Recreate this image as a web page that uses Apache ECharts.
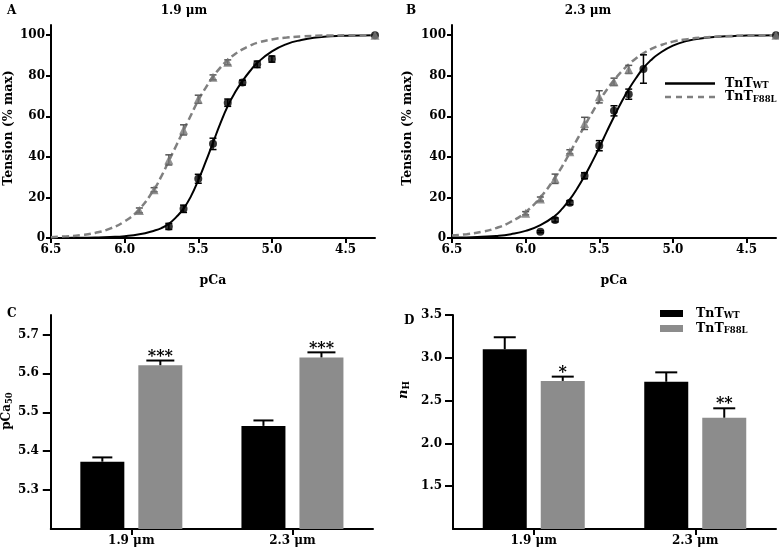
<!DOCTYPE html>
<html><head><meta charset="utf-8">
<script src="https://cdn.jsdelivr.net/npm/echarts@6/dist/echarts.min.js"></script>
<style>html,body{margin:0;padding:0;background:#fff}#c{width:779px;height:556px}</style>
</head><body><div id="c"></div>
<script>
// ---------- data ----------
const pcaTicks = [6.5, 6.0, 5.5, 5.0, 4.5];
const tensionTicks = [0, 20, 40, 60, 80, 100];
const pca50Ticks = [5.3, 5.4, 5.5, 5.6, 5.7];
const nHTicks = [1.5, 2.0, 2.5, 3.0, 3.5];
const sarcomere = ['1.9 μm', '2.3 μm'];

// Panel A (1.9 um) measured points
const aWtPCa = [5.7, 5.6, 5.5, 5.4, 5.3, 5.2, 5.1, 5.0, 4.3];
const aWtT = [5.7, 14.4, 29.2, 46.4, 66.7, 76.6, 85.6, 88.2, 100];
const aWtErr = [1.5, 1.8, 2.2, 2.8, 1.8, 1.2, 1.6, 1.5, 0];
const aMutPCa = [5.9, 5.8, 5.7, 5.6, 5.5, 5.4, 5.3, 4.3];
const aMutT = [13.6, 23.8, 38.5, 53.3, 68.4, 79.2, 86.6, 100];
const aMutErr = [1.2, 1.0, 2.5, 2.5, 2.0, 1.2, 1.2, 0];

// Panel B (2.3 um) measured points
const bWtPCa = [5.9, 5.8, 5.7, 5.6, 5.5, 5.4, 5.3, 5.2, 4.3];
const bWtT = [3.1, 8.9, 17.4, 30.7, 45.5, 62.7, 70.9, 83.3, 100];
const bWtErr = [0.5, 1.0, 1.0, 1.5, 2.5, 2.5, 2.5, 7.0, 0];
const bMutPCa = [6.0, 5.9, 5.8, 5.7, 5.6, 5.5, 5.4, 5.3, 4.3];
const bMutT = [12.2, 19.2, 29.2, 42.5, 56.5, 69.6, 77.0, 83.1, 100];
const bMutErr = [0.8, 1.0, 2.3, 1.0, 3.0, 3.0, 1.8, 2.0, 0];

// fitted curves
const curvePCa = [6.5, 6.4, 6.3, 6.2, 6.1, 6.0, 5.9, 5.8, 5.75, 5.7, 5.65, 5.6, 5.55, 5.5, 5.45, 5.4, 5.35, 5.3, 5.25, 5.2, 5.15, 5.1, 5.0, 4.9, 4.8, 4.7, 4.6, 4.5, 4.3];
const aWtCurve = [0, 0.05, 0.1, 0.25, 0.5, 0.9, 1.8, 3.6, 4.9, 7.0, 10.3, 14.5, 20.5, 28.5, 37.5, 47, 56.5, 65, 71.8, 77.3, 82.2, 86.3, 92, 95.6, 97.6, 98.8, 99.4, 99.7, 100];
const aMutCurve = [0.4, 0.8, 1.4, 2.5, 4.6, 8.2, 14.2, 24, 30.5, 38, 45.5, 53, 60.5, 67.8, 74, 79.5, 84, 87.8, 90.7, 93, 94.8, 96.2, 97.9, 98.8, 99.4, 99.7, 99.8, 99.9, 100];
const bWtCurve = [0.2, 0.3, 0.6, 1.0, 1.9, 3.5, 6.3, 11, 14.6, 19, 24.4, 30.5, 37.3, 44.6, 52.3, 59.8, 66.9, 73.3, 78.9, 83.8, 87.6, 90.6, 94.8, 97.2, 98.5, 99.2, 99.5, 99.8, 100];
const bMutCurve = [1.2, 1.9, 3.0, 4.9, 8.0, 12.8, 20, 29.8, 35.6, 42, 48.6, 55.2, 61.6, 67.6, 73, 77.8, 82, 85.6, 88.6, 91.1, 93.1, 94.6, 96.8, 98.0, 98.8, 99.3, 99.6, 99.8, 100];

// Panel C: pCa50
const cWt = [5.373, 5.465];
const cWtErr = [0.011, 0.014];
const cMut = [5.621, 5.641];
const cMutErr = [0.012, 0.013];
const cStars = ['***', '***'];

// Panel D: nH
const dWt = [3.10, 2.72];
const dWtErr = [0.14, 0.11];
const dMut = [2.73, 2.30];
const dMutErr = [0.05, 0.11];
const dStars = ['*', '**'];

// ---------- styling ----------
const FONT = 'DejaVu Serif';
const BLACK = '#000';
const GRAY = '#8c8c8c';
const TRI = '#777777';
const DASH = '#808080';
const BAR_W = 44, BAR_GAP = 14;

const zip = (xs, ys, es) => xs.map((x, i) => es ? [x, ys[i], es[i]] : [x, ys[i]]);
const lbl = {color: BLACK, fontFamily: FONT, fontWeight: 'bold', fontSize: 12};
const axLine = {show: true, onZero: false, lineStyle: {color: BLACK, width: 2}};
const tick = (vals, len) => ({show: true, length: len, lineStyle: {color: BLACK, width: 2}, customValues: vals});

function errPoints(capW, color) {
  return function (params, api) {
    const x = api.value(0), y = api.value(1), e = api.value(2);
    if (!e) return null;
    const t = api.coord([x, y + e]), b = api.coord([x, y - e]);
    const st = {stroke: color, lineWidth: 1.5};
    return {type: 'group', children: [
      {type: 'line', shape: {x1: t[0], y1: t[1], x2: b[0], y2: b[1]}, style: st},
      {type: 'line', shape: {x1: t[0] - capW / 2, y1: t[1], x2: t[0] + capW / 2, y2: t[1]}, style: st},
      {type: 'line', shape: {x1: b[0] - capW / 2, y1: b[1], x2: b[0] + capW / 2, y2: b[1]}, style: st}
    ]};
  };
}
function errBars(side, capW, stars) {
  return function (params, api) {
    const i = api.value(0), y = api.value(1), e = api.value(2);
    const base = api.coord([i, y]), t = api.coord([i, y + e]);
    const dx = side * (BAR_W + BAR_GAP) / 2;
    const x = base[0] + dx;
    const st = {stroke: BLACK, lineWidth: 2};
    const ch = [
      {type: 'line', shape: {x1: x, y1: base[1], x2: x, y2: t[1]}, style: st},
      {type: 'line', shape: {x1: x - capW / 2, y1: t[1], x2: x + capW / 2, y2: t[1]}, style: st}
    ];
    if (stars) ch.push({type: 'text', style: {text: stars[params.dataIndex], x: x, y: t[1] - 4, align: 'center', verticalAlign: 'middle', font: 'bold 16px "DejaVu Serif"', fill: BLACK}});
    return {type: 'group', children: ch};
  };
}

function pcaX(gi) {
  return {type: 'value', gridIndex: gi, min: 4.3, max: 6.5, inverse: true,
    name: 'pCa', nameLocation: 'middle', nameGap: 36,
    nameTextStyle: {color: BLACK, fontFamily: FONT, fontWeight: 'bold', fontSize: 12.5},
    axisLine: axLine, axisTick: tick(pcaTicks, 5), splitLine: {show: false},
    axisLabel: Object.assign({}, lbl, {margin: 6, customValues: pcaTicks, formatter: v => v.toFixed(1)})};
}
function tensionY(gi, gap) {
  return {type: 'value', gridIndex: gi, min: 0, max: 105,
    name: 'Tension (% max)', nameLocation: 'middle', nameGap: gap,
    nameTextStyle: {color: BLACK, fontFamily: FONT, fontWeight: 'bold', fontSize: 12.5, padding: [0, 0, 0, 7]},
    axisLine: axLine, axisTick: tick(tensionTicks, 5), splitLine: {show: false},
    axisLabel: Object.assign({}, lbl, {margin: 6, customValues: tensionTicks})};
}
function catX(gi) {
  return {type: 'category', gridIndex: gi, data: sarcomere,
    axisLine: axLine, axisTick: {show: true, alignWithLabel: true, length: 6, lineStyle: {color: BLACK, width: 2}},
    axisLabel: Object.assign({}, lbl, {margin: 6})};
}

const chart = echarts.init(document.getElementById('c'), null, {renderer: 'canvas'});
const titleStyle = {color: BLACK, fontFamily: FONT, fontWeight: 'bold', fontSize: 12};

const curveSeries = (name, xi, data, dashed) => ({
  type: 'line', name: name, xAxisIndex: xi, yAxisIndex: xi, data: zip(curvePCa, data),
  symbol: 'none', smooth: true, z: 2,
  lineStyle: dashed ? {color: DASH, width: 2.5, type: [7, 4]} : {color: BLACK, width: 2},
  itemStyle: {color: dashed ? DASH : BLACK}
});
const legendRich = {
  m: {color: BLACK, fontFamily: FONT, fontWeight: 'bold', fontSize: 12.5},
  s: {color: BLACK, fontFamily: FONT, fontWeight: 'bold', fontSize: 8.5, padding: [5, 0, 0, 0]}
};

const option = {
  animation: false,
  backgroundColor: '#fff',
  title: [
    {text: 'A', left: 2, top: 0, textStyle: titleStyle},
    {text: '1.9 μm', left: 179, top: 0, textAlign: 'center', textStyle: titleStyle},
    {text: 'B', left: 401, top: 0, textStyle: titleStyle},
    {text: '2.3 μm', left: 583, top: 0, textAlign: 'center', textStyle: titleStyle},
    {text: 'C', left: 2, top: 303, textStyle: titleStyle},
    {text: 'D', left: 399, top: 310, textStyle: titleStyle}
  ],
  grid: [
    {left: 51, top: 25, width: 324, height: 213},
    {left: 452, top: 25, width: 324, height: 213},
    {left: 50, top: 315, width: 323, height: 214},
    {left: 453, top: 315, width: 323, height: 214}
  ],
  xAxis: [pcaX(0), pcaX(1), catX(2), catX(3)],
  yAxis: [
    tensionY(0, 36), tensionY(1, 38),
    {type: 'value', gridIndex: 2, min: 5.2, max: 5.75,
      name: '{m|pCa}{s|50}', nameLocation: 'middle', nameGap: 35,
      nameTextStyle: {padding: [0, 0, 0, 22], rich: {
        m: {color: BLACK, fontFamily: FONT, fontWeight: 'bold', fontSize: 12},
        s: {color: BLACK, fontFamily: FONT, fontWeight: 'bold', fontSize: 8.5, padding: [5, 0, 0, 0]}}},
      axisLine: axLine, axisTick: tick(pca50Ticks, 8), splitLine: {show: false},
      axisLabel: Object.assign({}, lbl, {margin: 12, customValues: pca50Ticks, formatter: v => v.toFixed(1)})},
    {type: 'value', gridIndex: 3, min: 1.0, max: 3.5,
      name: '{m|n}{s|H}', nameLocation: 'middle', nameGap: 42,
      nameTextStyle: {padding: [0, 0, 0, 64], rich: {
        m: {color: BLACK, fontFamily: FONT, fontStyle: 'italic', fontWeight: 'bold', fontSize: 13},
        s: {color: BLACK, fontFamily: FONT, fontWeight: 'bold', fontSize: 9, padding: [6, 0, 0, 0]}}},
      axisLine: axLine, axisTick: tick(nHTicks, 8), splitLine: {show: false},
      axisLabel: Object.assign({}, lbl, {margin: 11, customValues: nHTicks, formatter: v => v.toFixed(1)})}
  ],
  legend: [
    {left: 665, top: 77, padding: 0, orient: 'vertical', itemWidth: 50, itemHeight: 2.5, itemGap: 0,
      data: [
        {name: 'TnT WT', icon: 'rect'},
        {name: 'TnT F88L', icon: 'path://M0,0h6v2.5h-6zM11,0h6v2.5h-6zM22,0h6v2.5h-6zM33,0h6v2.5h-6zM44,0h6v2.5h-6z'}
      ],
      formatter: n => n === 'TnT WT' ? '{m|TnT}{s|WT}' : '{m|TnT}{s|F88L}',
      textStyle: {padding: [0, 0, 0, 5], rich: legendRich}},
    {left: 660, top: 307, padding: 0, orient: 'vertical', itemWidth: 23, itemHeight: 7, itemGap: 1.5, icon: 'rect',
      data: ['bar WT', 'bar F88L'],
      formatter: n => n === 'bar WT' ? '{m|TnT}{s|WT}' : '{m|TnT}{s|F88L}',
      textStyle: {padding: [0, 0, 0, 8], rich: legendRich}}
  ],
  series: [
    // Panel A
    curveSeries('TnT WT', 0, aWtCurve, false),
    curveSeries('TnT F88L', 0, aMutCurve, true),
    {type: 'custom', name: 'errA1', xAxisIndex: 0, yAxisIndex: 0, data: zip(aWtPCa, aWtT, aWtErr), encode: {x: 0, y: 1}, renderItem: errPoints(7, BLACK), z: 3},
    {type: 'custom', name: 'errA2', xAxisIndex: 0, yAxisIndex: 0, data: zip(aMutPCa, aMutT, aMutErr), encode: {x: 0, y: 1}, renderItem: errPoints(7, '#555'), z: 3},
    {type: 'scatter', name: 'ptsA1', xAxisIndex: 0, yAxisIndex: 0, data: zip(aWtPCa, aWtT), symbol: 'circle', symbolSize: 8, itemStyle: {color: BLACK}, z: 4},
    {type: 'scatter', name: 'ptsA2', xAxisIndex: 0, yAxisIndex: 0, data: zip(aMutPCa, aMutT), symbol: 'triangle', symbolSize: 9, itemStyle: {color: TRI}, z: 4},
    // Panel B
    curveSeries('TnT WT', 1, bWtCurve, false),
    curveSeries('TnT F88L', 1, bMutCurve, true),
    {type: 'custom', name: 'errB1', xAxisIndex: 1, yAxisIndex: 1, data: zip(bWtPCa, bWtT, bWtErr), encode: {x: 0, y: 1}, renderItem: errPoints(7, BLACK), z: 3},
    {type: 'custom', name: 'errB2', xAxisIndex: 1, yAxisIndex: 1, data: zip(bMutPCa, bMutT, bMutErr), encode: {x: 0, y: 1}, renderItem: errPoints(7, '#555'), z: 3},
    {type: 'scatter', name: 'ptsB1', xAxisIndex: 1, yAxisIndex: 1, data: zip(bWtPCa, bWtT), symbol: 'circle', symbolSize: 8, itemStyle: {color: BLACK}, z: 4},
    {type: 'scatter', name: 'ptsB2', xAxisIndex: 1, yAxisIndex: 1, data: zip(bMutPCa, bMutT), symbol: 'triangle', symbolSize: 9, itemStyle: {color: TRI}, z: 4},
    // Panel C
    {type: 'bar', name: 'bar WT', xAxisIndex: 2, yAxisIndex: 2, data: cWt, barWidth: BAR_W, barGap: (BAR_GAP / BAR_W * 100) + '%', itemStyle: {color: BLACK}},
    {type: 'bar', name: 'bar F88L', xAxisIndex: 2, yAxisIndex: 2, data: cMut, barWidth: BAR_W, itemStyle: {color: GRAY}},
    {type: 'custom', name: 'errC1', xAxisIndex: 2, yAxisIndex: 2, data: cWt.map((v, i) => [i, v, cWtErr[i]]), encode: {x: 0, y: 1}, renderItem: errBars(-1, 20, null), z: 5},
    {type: 'custom', name: 'errC2', xAxisIndex: 2, yAxisIndex: 2, data: cMut.map((v, i) => [i, v, cMutErr[i]]), encode: {x: 0, y: 1}, renderItem: errBars(1, 28, cStars), z: 5},
    // Panel D
    {type: 'bar', name: 'bar WT', xAxisIndex: 3, yAxisIndex: 3, data: dWt, barWidth: BAR_W, barGap: (BAR_GAP / BAR_W * 100) + '%', itemStyle: {color: BLACK}},
    {type: 'bar', name: 'bar F88L', xAxisIndex: 3, yAxisIndex: 3, data: dMut, barWidth: BAR_W, itemStyle: {color: GRAY}},
    {type: 'custom', name: 'errD1', xAxisIndex: 3, yAxisIndex: 3, data: dWt.map((v, i) => [i, v, dWtErr[i]]), encode: {x: 0, y: 1}, renderItem: errBars(-1, 22, null), z: 5},
    {type: 'custom', name: 'errD2', xAxisIndex: 3, yAxisIndex: 3, data: dMut.map((v, i) => [i, v, dMutErr[i]]), encode: {x: 0, y: 1}, renderItem: errBars(1, 22, dStars), z: 5}
  ]
};
chart.setOption(option);
</script></body></html>
